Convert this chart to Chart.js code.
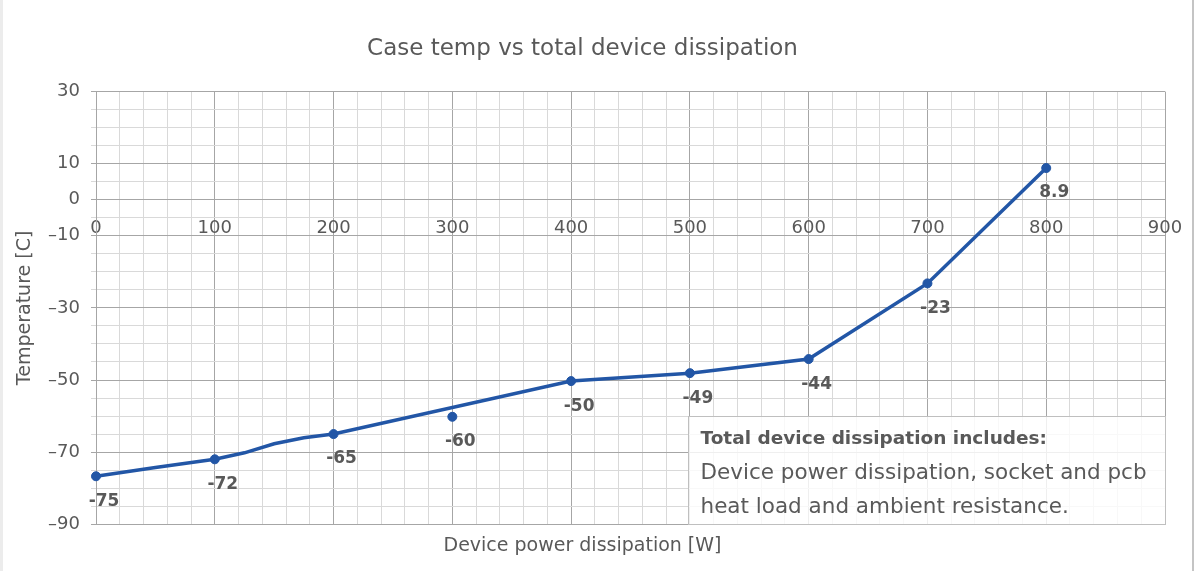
<!DOCTYPE html>
<html>
<head>
<meta charset="utf-8">
<script src="https://cdn.jsdelivr.net/npm/chart.js@4.4.1/dist/chart.umd.min.js"></script>
<style>
    html, body { margin: 0; padding: 0; background: #fff; }
    #wrap { position: relative; width: 1196px; height: 571px; }
</style>
</head>
<body>
<div id="wrap"><canvas id="chart" width="1196" height="571"></canvas></div>
<script>
// Pontos medidos (com marcador)
const powerLevels = [0, 100, 200, 300, 400, 500, 600, 700, 800];
const caseTemps = [-76.7, -72, -65, -60.2, -50.3, -48.1, -44.2, -23.2, 8.8];
const caseTempLabels = ['-75', '-72', '-65', '-60', '-50', '-49', '-44', '-23', '8.9'];

// Curva de tendência (sem marcadores)
const curvePower = [0, 50, 100, 125, 150, 175, 200, 400, 500, 600, 700, 800];
const curveTemps = [-76.7, -74.3, -72, -70.2, -67.7, -66, -65, -50.3, -48.1, -44.2, -23.2, 8.8];

// Eixos
const yTickLabels = [30, 10, 0, -10, -30, -50, -70, -90];
const xTickLabels = [0, 100, 200, 300, 400, 500, 600, 700, 800, 900];

// Caixa de nota
const noteLines = [
    'Total device dissipation includes:',
    'Device power dissipation, socket and pcb',
    'heat load and ambient resistance.'
];

const FONT = '"DejaVu Sans", sans-serif';
const TEXT = '#595959';
const LINE = '#2256a6';
const GRID_MAJOR = '#a6a6a6';
const GRID_MINOR = '#d9d9d9';

const notesPlugin = {
    id: 'notes',
    beforeDraw(chart) {
        const ctx = chart.ctx;
        ctx.save();
        ctx.fillStyle = '#fff';
        ctx.fillRect(0, 0, chart.width, chart.height);
        // moldura da imagem
        ctx.fillStyle = '#ececec';
        ctx.fillRect(0, 0, 3, chart.height);
        ctx.fillStyle = '#c4c4c4';
        ctx.fillRect(chart.width - 4, 0, 2, chart.height);
        ctx.restore();
    },
    afterDatasetsDraw(chart) {
        const { ctx, scales: { x, y } } = chart;

        // Rótulos dos pontos
        const meta = chart.getDatasetMeta(1);
        ctx.save();
        ctx.font = 'bold 17px ' + FONT;
        ctx.fillStyle = TEXT;
        ctx.textAlign = 'center';
        ctx.textBaseline = 'middle';
        meta.data.forEach((pt, i) => {
            ctx.fillText(caseTempLabels[i], pt.x + 8, pt.y + 25);
        });

        // Caixa de nota
        const left = Math.round(x.getPixelForValue(498)) + 0.5;
        const right = Math.round(x.getPixelForValue(900)) + 0.5;
        const top = Math.round(y.getPixelForValue(-60)) + 0.5;
        const bottom = Math.round(y.getPixelForValue(-90)) + 0.5;
        ctx.fillStyle = 'rgba(255,255,255,0.82)';
        ctx.fillRect(left, top, right - left, bottom - top);
        ctx.strokeStyle = '#bfbfbf';
        ctx.lineWidth = 1;
        ctx.strokeRect(left, top, right - left, bottom - top);

        ctx.fillStyle = TEXT;
        ctx.textAlign = 'left';
        noteLines.forEach((line, i) => {
            ctx.font = (i === 0 ? 'bold 18.5px ' : '21.5px ') + FONT;
            ctx.fillText(line, left + 12, top + 23 + i * 34);
        });
        ctx.restore();
    }
};

new Chart(document.getElementById('chart'), {
    type: 'scatter',
    data: {
        datasets: [{
            label: 'curve',
            data: curvePower.map((p, i) => ({ x: p, y: curveTemps[i] })),
            showLine: true,
            borderColor: LINE,
            borderWidth: 3.5,
            pointRadius: 0,
            tension: 0,
            clip: false
        }, {
            label: 'measured',
            data: powerLevels.map((p, i) => ({ x: p, y: caseTemps[i] })),
            showLine: false,
            backgroundColor: LINE,
            borderColor: LINE,
            pointRadius: 4.5,
            clip: false
        }]
    },
    options: {
        responsive: false,
        animation: false,
        layout: { padding: { left: 0, right: 31, top: 0, bottom: 0 } },
        plugins: {
            legend: { display: false },
            tooltip: { enabled: false },
            title: {
                display: true,
                text: 'Case temp vs total device dissipation',
                color: TEXT,
                font: { family: FONT, size: 23, weight: 'normal' },
                padding: { top: 35, bottom: 29 }
            },
            subtitle: {
                display: true,
                position: 'bottom',
                text: 'Device power dissipation [W]',
                color: TEXT,
                font: { family: FONT, size: 19, weight: 'normal' },
                padding: { top: 10, bottom: 14 }
            }
        },
        scales: {
            x: {
                type: 'linear',
                position: { y: 0 },
                min: 0,
                max: 900,
                afterBuildTicks: (scale) => {
                    const ticks = [];
                    for (let v = 0; v <= 900; v += 20) ticks.push({ value: v });
                    scale.ticks = ticks;
                },
                afterFit: (scale) => {
                    scale.height = 0;
                    scale.paddingLeft = 0;
                    scale.paddingRight = 0;
                },
                grid: {
                    drawTicks: false,
                    color: (c) => (c.tick && c.tick.value % 100 === 0) ? GRID_MAJOR : GRID_MINOR
                },
                border: { color: GRID_MAJOR },
                ticks: {
                    autoSkip: false,
                    maxRotation: 0,
                    padding: 18,
                    color: TEXT,
                    font: { family: FONT, size: 18 },
                    callback: (v) => xTickLabels.includes(v) ? String(v) : ''
                }
            },
            y: {
                type: 'linear',
                min: -90,
                max: 30,
                afterBuildTicks: (scale) => {
                    const ticks = [];
                    for (let v = -90; v <= 30; v += 5) ticks.push({ value: v });
                    scale.ticks = ticks;
                },
                afterFit: (scale) => { scale.width = 96; },
                grid: {
                    tickLength: 5,
                    color: (c) => {
                        const v = c.tick ? c.tick.value : 1;
                        return ((v + 90) % 20 === 0 || v === 0) ? GRID_MAJOR : GRID_MINOR;
                    }
                },
                border: { color: GRID_MAJOR },
                ticks: {
                    autoSkip: false,
                    padding: 11,
                    color: TEXT,
                    font: { family: FONT, size: 18 },
                    callback: (v) => yTickLabels.includes(v) ? String(v).replace('-', '\u2013') : ''
                },
                title: {
                    display: true,
                    text: 'Temperature [C]',
                    color: TEXT,
                    font: { family: FONT, size: 19 },
                    padding: { top: 14, bottom: 0 }
                }
            }
        }
    },
    plugins: [notesPlugin]
});
</script>
</body>
</html>
